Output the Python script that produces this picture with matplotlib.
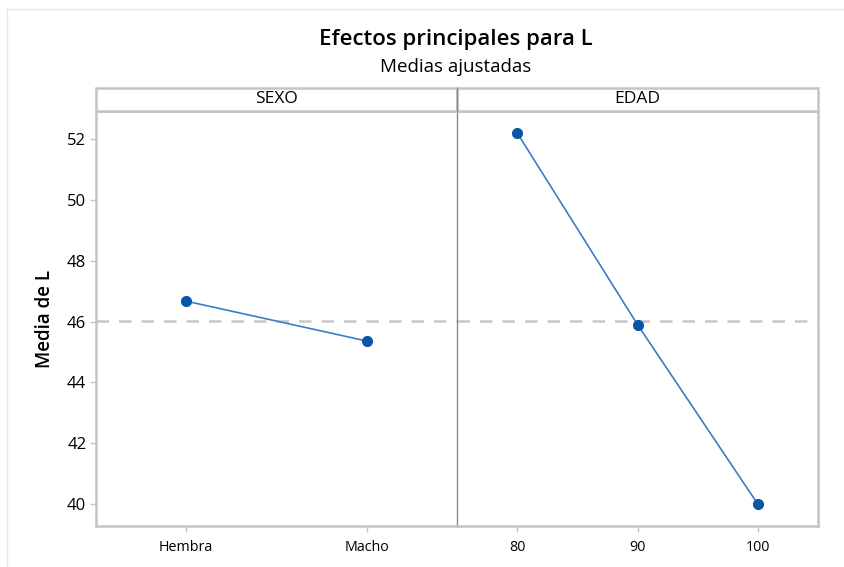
import matplotlib
matplotlib.use("Agg")
import matplotlib.pyplot as plt
from matplotlib.patches import Rectangle
from matplotlib.lines import Line2D

plt.rcParams['font.family'] = ['Open Sans', 'DejaVu Sans']

# medias ajustadas
sexo_niveles = ["Hembra", "Macho"]
sexo_medias = [46.67, 45.36]
edad_niveles = [80, 90, 100]
edad_medias = [52.2, 45.9, 40.0]
media_global = 46.02

linea_color = "#3a7cc8"
punto_color = "#0a55a8"
marco_color = "#c4c4c4"
divisor_color = "#8c8c8c"

fig = plt.figure(figsize=(8.45, 5.67), dpi=100)

izq, abajo, ancho, alto = 96 / 845, 1 - 526 / 567, 361 / 845, 415 / 567
ax1 = fig.add_axes([izq, abajo, ancho, alto])
ax2 = fig.add_axes([izq + ancho, abajo, ancho, alto], sharey=ax1)
ax2.set_facecolor("none")

# SEXO
x1 = list(range(len(sexo_niveles)))
ax1.plot(x1, sexo_medias, color=linea_color, linewidth=1.2, zorder=3)
ax1.plot(x1, sexo_medias, "o", color=punto_color, markersize=7, zorder=4)
ax1.set_xticks(x1)
ax1.set_xticklabels(sexo_niveles, fontsize=10.3)
ax1.set_xlim(-0.5, 1.5)

# EDAD
ax2.plot(edad_niveles, edad_medias, color=linea_color, linewidth=1.2, zorder=3)
ax2.plot(edad_niveles, edad_medias, "o", color=punto_color, markersize=7, zorder=4)
ax2.set_xticks(edad_niveles)
ax2.set_xticklabels([str(v) for v in edad_niveles], fontsize=10.3)
ax2.set_xlim(75, 105)

ax1.set_ylim(39.28, 52.92)
ax1.set_yticks([40, 42, 44, 46, 48, 50, 52])
ax1.tick_params(axis="y", labelsize=12, color=marco_color, length=4, width=1, pad=3)
ax2.tick_params(axis="y", left=False, labelleft=False)

for ax in (ax1, ax2):
    ax.axhline(media_global, color="#c8c8c8", linewidth=1.8, dashes=(5, 4), zorder=1)
    ax.tick_params(axis="x", color=marco_color, length=4, width=1, pad=6)
    for s in ax.spines.values():
        s.set_color(marco_color)
        s.set_linewidth(1.8)

# divisor entre paneles
ax1.spines["right"].set_visible(False)
ax2.spines["left"].set_color(divisor_color)
ax2.spines["left"].set_linewidth(1.0)

ax1.set_ylabel("Media de L", fontsize=13.5, fontweight="semibold", labelpad=9)

# franjas de los paneles
tira_alto = 23 / 567
for ax, nombre in ((ax1, "SEXO"), (ax2, "EDAD")):
    pos = ax.get_position()
    rect = Rectangle((pos.x0, pos.y1), pos.width, tira_alto, transform=fig.transFigure,
                     facecolor="white", edgecolor=marco_color, linewidth=1.8)
    fig.patches.append(rect)
    fig.text(pos.x0 + pos.width / 2, pos.y1 + tira_alto / 2, nombre,
             ha="center", va="center", fontsize=12.5)
fig.add_artist(Line2D([izq + ancho, izq + ancho], [abajo + alto, abajo + alto + tira_alto],
                      transform=fig.transFigure, color=divisor_color, linewidth=1.0))

# borde exterior claro
fig.add_artist(Line2D([7 / 845, 7 / 845, 1], [0, 1 - 9 / 567, 1 - 9 / 567],
                      transform=fig.transFigure, color="#e6e6e6", linewidth=1.0))

fig.text(456 / 845, 1 - 40 / 567, "Efectos principales para L", ha="center", va="center",
         fontsize=16, fontweight="semibold")
fig.text(456 / 845, 1 - 67 / 567, "Medias ajustadas", ha="center", va="center", fontsize=13.5)

fig.savefig("out.png", dpi=100)
